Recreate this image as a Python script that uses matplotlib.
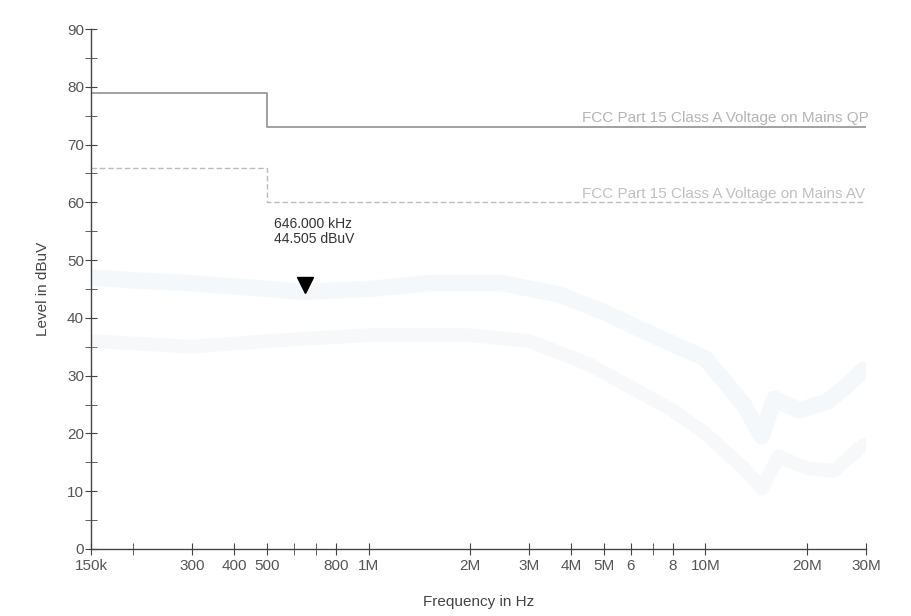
import matplotlib
matplotlib.use("Agg")
import matplotlib.pyplot as plt
import matplotlib.transforms as mtransforms

plt.rcParams["font.family"] = ["Liberation Sans", "DejaVu Sans"]

# --- Data ---
qp_freq = [150e3, 500e3, 500e3, 30e6]
qp_level = [79, 79, 73, 73]
av_freq = [150e3, 500e3, 500e3, 30e6]
av_level = [66, 66, 60, 60]

peak_freq = [150e3, 200e3, 300e3, 500e3, 646e3, 1e6, 1.5e6, 2.5e6, 3.7e6, 5e6,
             7e6, 10e6, 13e6, 14.7e6, 16e6, 19e6, 23e6, 26e6, 29.5e6]
peak_level = [47, 46.5, 46, 45, 44.5, 45, 46, 46, 44, 41,
              37, 33, 25, 19.5, 26, 24, 25.5, 28, 31]
avg_freq = [150e3, 300e3, 500e3, 1e6, 2e6, 3e6, 4.5e6, 6e6, 8e6, 10e6,
            13e6, 14.7e6, 16.5e6, 20e6, 24e6, 29.5e6]
avg_level = [36, 35, 36, 37, 37, 36, 32, 28, 24, 20,
             14, 10.5, 16, 14, 13.5, 18]

marker_freq = 646e3
marker_level = 44.505

xtick_major = [150e3, 300e3, 400e3, 500e3, 800e3, 1e6, 2e6, 3e6, 4e6, 5e6, 6e6, 8e6, 10e6, 20e6, 30e6]
xtick_labels = ["150k", "300", "400", "500", "800", "1M", "2M", "3M", "4M", "5M", "6", "8", "10M", "20M", "30M"]
xtick_minor = [200e3, 600e3, 700e3, 7e6]

fig = plt.figure(figsize=(9.11, 6.16), dpi=100)
ax = fig.add_axes([0.0999, 0.1088, 0.8507, 0.8441])

ax.plot(peak_freq, peak_level, color="#d3e3ef", lw=12, alpha=0.22, solid_capstyle="round")
ax.plot(avg_freq, avg_level, color="#dfe3e6", lw=10, alpha=0.22, solid_capstyle="round")

ax.plot(qp_freq, qp_level, color="#9a9a9a", lw=1.3)
ax.plot(av_freq, av_level, color="#bcbcbc", lw=1.0, ls=(0, (4, 2)))

ax.text(4.3e6, 73.3, "FCC Part 15 Class A Voltage on Mains QP", ha="left", va="bottom",
        fontsize=11, color="#b4b4b4")
ax.text(4.3e6, 60.3, "FCC Part 15 Class A Voltage on Mains AV", ha="left", va="bottom",
        fontsize=11, color="#c0c0c0")

# marker: tip of the triangle sits on the level
off = mtransforms.offset_copy(ax.transData, fig=fig, x=0, y=7, units="dots")
ax.plot([marker_freq], [marker_level], marker="v", color="black", ms=11, transform=off, ls="none")
ax.annotate(f"{marker_freq/1e3:.3f} kHz\n{marker_level:.3f} dBuV", xy=(marker_freq, marker_level),
            xytext=(-31, 75), textcoords="offset pixels", ha="left", va="top",
            fontsize=10, color="#333333", linespacing=1.1)

ax.set_xscale("log")
ax.set_xlim(150e3, 30e6)
ax.set_ylim(0, 90)
ax.set_xticks(xtick_major)
ax.set_xticklabels(xtick_labels)
ax.set_xticks(xtick_minor, minor=True)
ax.set_xticklabels([], minor=True)
ax.set_yticks(range(0, 91, 10))
ax.set_yticks(range(5, 90, 10), minor=True)

for s in ["top", "right"]:
    ax.spines[s].set_visible(False)
for s in ["left", "bottom"]:
    ax.spines[s].set_color("#444444")
    ax.spines[s].set_linewidth(1.0)

ax.tick_params(axis="both", which="both", direction="inout", color="#444444", labelcolor="#555555",
               labelsize=11, length=8)
ax.tick_params(axis="y", pad=1)
ax.tick_params(axis="x", pad=3)

ax.set_xlabel("Frequency in Hz", fontsize=11, color="#444444", labelpad=16)
ax.set_ylabel("Level in dBuV", fontsize=11, color="#444444", labelpad=12)

fig.savefig("out.png", dpi=100)
